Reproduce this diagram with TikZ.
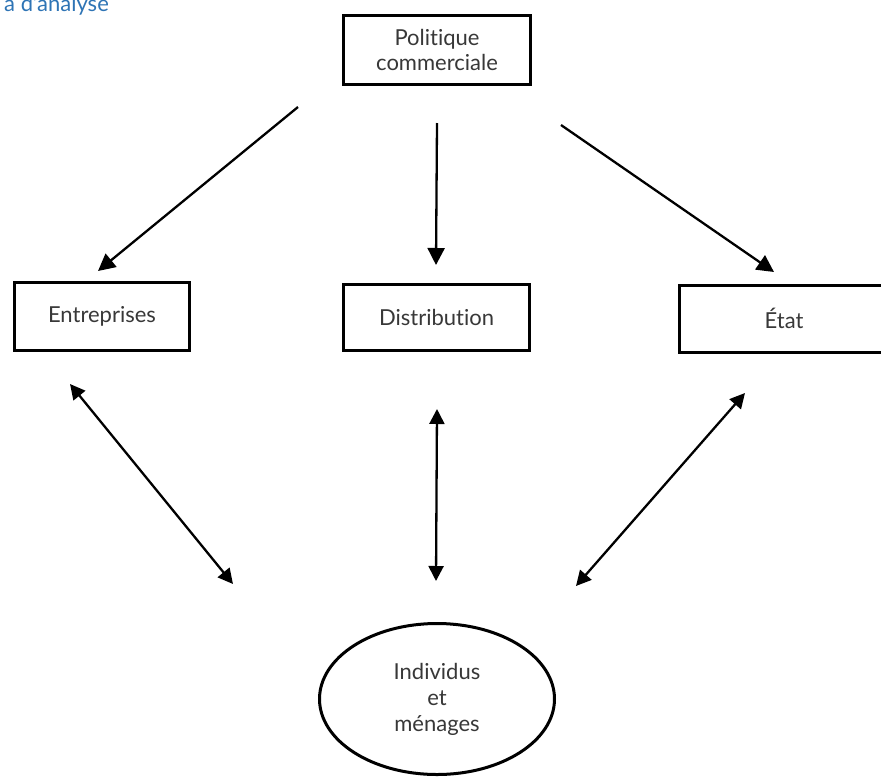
\documentclass[tikz,border=0pt]{standalone}
\usepackage{fontspec}
\setmainfont{Lato}[Ligatures=NoCommon]
\usetikzlibrary{positioning, arrows.meta, shapes.geometric}
\definecolor{headblue}{HTML}{2E74B5}
\definecolor{labelgray}{HTML}{383838}

\begin{document}
\begin{tikzpicture}[
    x=1pt, y=-1pt,
    % Styles
    box/.style={draw=black, line width=3pt, fill=white, text=labelgray, align=center, inner sep=0pt, font=\fontsize{22}{25}\selectfont},
    actor/.style={ellipse, draw=black, line width=3pt, fill=white, text=labelgray, align=center, inner sep=0pt, minimum width=235pt, minimum height=151pt, font=\fontsize{22}{26}\selectfont},
    arrow/.style={-{Triangle[length=17pt, width=17pt]}, line width=2.3pt},
    twoway/.style={{Triangle[length=15pt, width=15pt]}-{Triangle[length=15pt, width=15pt]}, line width=2.3pt},
]

% Page frame
\clip (0,0) rectangle (881,777);

% Title (cut at the top left)
\node[anchor=base west, inner sep=0pt, text=headblue, font=\fontsize{22}{24}\selectfont] (title) at (4,11) {a d'analyse};

% Commercial policy (top)
\node[box, minimum width=187pt, minimum height=69pt] (politique) at (437,50) {Politique\\commerciale};

% Actors (middle row)
\node[box, minimum width=175pt, minimum height=68pt] (entreprises) at (102,316.5) {Entreprises};
\node[box, minimum width=186pt, minimum height=66pt] (distribution) at (436.5,317.5) {Distribution};
\node[box, minimum width=209pt, minimum height=67pt] (etat) at (784,318.5) {État};

% Households (bottom)
\node[actor] (menages) at (437,699) {Individus\\et\\ménages};

% Arrow ends
\coordinate (polL) at (298,107);
\coordinate (polM) at (437,123);
\coordinate (polR) at (561,125);
\coordinate (entIn) at (98,271);
\coordinate (disIn) at (436,265);
\coordinate (etaIn) at (774,272);
\coordinate (entOut) at (70,384);
\coordinate (disOut) at (437,409);
\coordinate (etaOut) at (745,393);
\coordinate (menL) at (233,584);
\coordinate (menM) at (436,581);
\coordinate (menR) at (576,586);

% Policy towards the actors
\draw[arrow] (polL) -- (entIn);
\draw[arrow] (polM) -- (disIn);
\draw[arrow] (polR) -- (etaIn);

% Actors and households
\draw[twoway] (entOut) -- (menL);
\draw[twoway] (disOut) -- (menM);
\draw[twoway] (etaOut) -- (menR);

\end{tikzpicture}
\end{document}
